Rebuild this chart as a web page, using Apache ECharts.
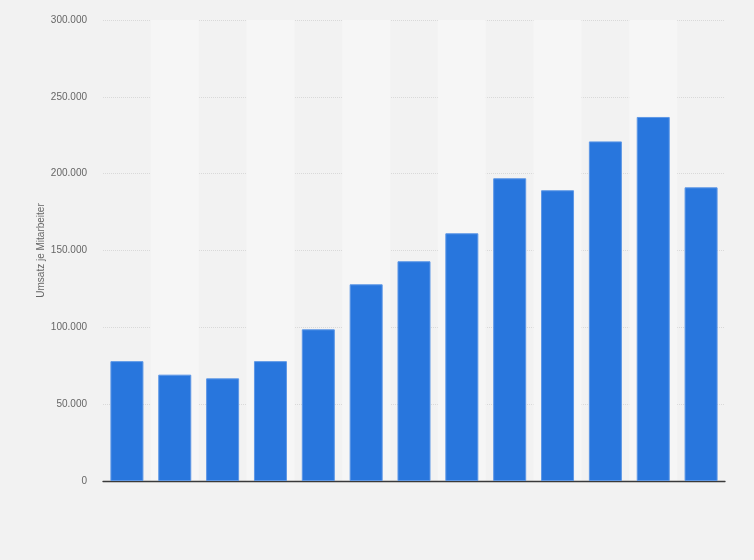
<!DOCTYPE html>
<html>
<head>
<meta charset="utf-8">
<script src="https://cdn.jsdelivr.net/npm/echarts@6/dist/echarts.min.js"></script>
<style>
html,body{margin:0;padding:0;background:#f2f2f2;}
#chart{width:754px;height:560px;}
</style>
</head>
<body>
<div id="chart"></div>
<script>
var categories = ['1','2','3','4','5','6','7','8','9','10','11','12','13'];
var values = [78000, 69200, 66800, 78000, 98700, 128000, 143000, 161200, 197000, 189200, 221000, 236900, 191100];
var yTicks = {min: 0, max: 300000, interval: 50000};
var yAxisName = 'Umsatz je Mitarbeiter';

var chart = echarts.init(document.getElementById('chart'));
chart.setOption({
  backgroundColor: '#f2f2f2',
  animation: false,
  grid: {left: 103, right: 29, top: 20, bottom: 79, containLabel: false},
  xAxis: {
    type: 'category',
    data: categories,
    axisLine: {show: true, lineStyle: {color: '#3a3a3a', width: 1.3}},
    axisTick: {show: false},
    axisLabel: {show: false},
    splitArea: {show: true, areaStyle: {color: ['rgba(0,0,0,0)', '#f6f6f6']}}
  },
  yAxis: {
    type: 'value',
    min: yTicks.min, max: yTicks.max, interval: yTicks.interval,
    name: yAxisName,
    nameLocation: 'middle',
    nameGap: 57,
    nameMoveOverlap: false,
    nameRotate: 90,
    nameTextStyle: {color: '#666', fontSize: 10, fontFamily: 'Arial, Liberation Sans, sans-serif'},
    axisLine: {show: false},
    axisTick: {show: false},
    axisLabel: {
      color: '#666', fontSize: 10, margin: 16,
      fontFamily: 'Arial, Liberation Sans, sans-serif',
      formatter: function (v) { return v === 0 ? '0' : v.toLocaleString('de-DE'); }
    },
    splitLine: {show: true, lineStyle: {color: '#d9d9d9', type: 'dotted', width: 1}}
  },
  series: [{
    type: 'bar',
    data: values,
    barCategoryGap: '31%',
    itemStyle: {color: '#2876dd', borderColor: '#5d97e6', borderWidth: 1}
  }]
});
</script>
</body>
</html>
